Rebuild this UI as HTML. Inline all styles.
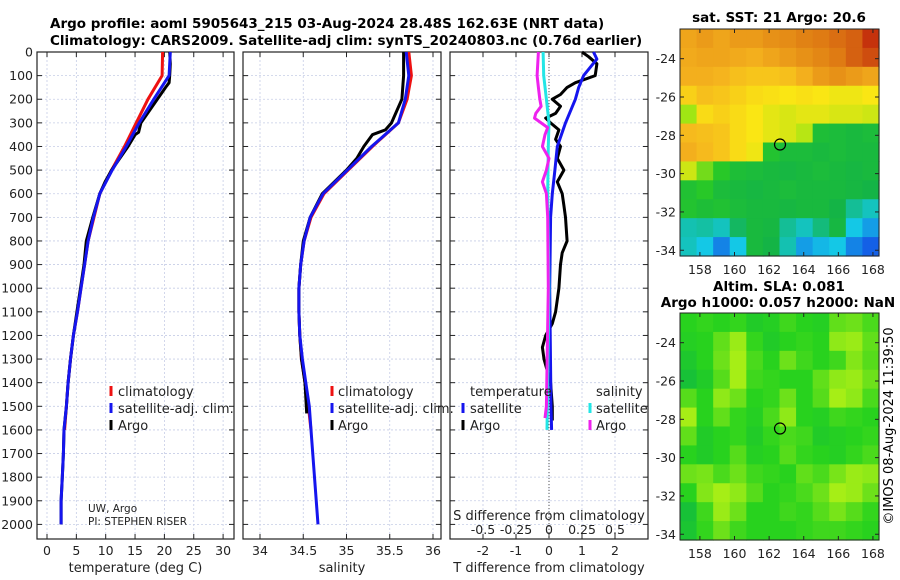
<!DOCTYPE html>
<html><head><meta charset="utf-8"><style>
body{margin:0;background:#fff;}
svg{display:block;font-family:"DejaVu Sans","Liberation Sans",sans-serif;}
</style></head><body>
<svg id="c" width="900" height="580" viewBox="0 0 900 580" xmlns="http://www.w3.org/2000/svg">
<text x="50" y="28" text-anchor="start" font-size="13.5" font-weight="bold">Argo profile: aoml 5905643_215 03-Aug-2024 28.48S 162.63E (NRT data)</text>
<text x="50" y="45" text-anchor="start" font-size="13.5" font-weight="bold">Climatology: CARS2009. Satellite-adj clim: synTS_20240803.nc (0.76d earlier)</text>
<text x="779" y="22" text-anchor="middle" font-size="13.5" font-weight="bold">sat. SST: 21 Argo: 20.6</text>
<text x="779" y="291" text-anchor="middle" font-size="13.5" font-weight="bold">Altim. SLA: 0.081</text>
<text x="778" y="307" text-anchor="middle" font-size="13.5" font-weight="bold">Argo h1000: 0.057 h2000: NaN</text>
<text transform="translate(893,426) rotate(-90)" text-anchor="middle" font-size="13">©IMOS 08-Aug-2024 11:39:50</text>
<g id="g"></g>
</svg>
<script>
// ---- data ----
const depthTicks=[0,100,200,300,400,500,600,700,800,900,1000,1100,1200,1300,1400,1500,1600,1700,1800,1900,2000];
const tTicks=[0,5,10,15,20,25,30];
const sTicks=[34,34.5,35,35.5,36];
const dtTicks=[-2,-1,0,1,2];
const dsTicks=[-0.5,-0.25,0,0.25,0.5];
const dsTickLabels=["-0.5","-0.25","0","0.25","0.5"];
const tempArgoDepth=[0,50,100,130,150,200,300,340,350,400,500,550,600,700,800,900,1000,1100,1200,1300,1400,1500,1600,1700,1800,1900,2000];
const tempArgo=[20.9,21.0,20.9,20.8,20.2,18.8,16.0,15.6,15.0,13.8,11.0,9.9,9.0,7.8,6.7,6.3,5.7,5.1,4.5,4.0,3.6,3.3,2.9,2.8,2.6,2.4,2.4];
const tempClimDepth=[0,100,200,300,400,500,600,700,800,900,1000,1100,1200,1300,1400,1500,1600];
const tempClim=[19.7,19.6,17.2,15.2,13.2,11.0,9.0,8.0,7.0,6.4,5.8,5.2,4.5,4.0,3.6,3.3,3.0];
const tempSatDepth=[0,100,200,300,400,500,600,700,800,900,1000,1100,1200,1300,1400,1500,1600,1700,1800,1900,2000];
const tempSat=[21.0,20.8,18.2,15.7,13.5,11.1,9.0,7.9,7.0,6.4,5.8,5.2,4.5,4.0,3.6,3.3,2.9,2.8,2.6,2.4,2.4];
const salArgoDepth=[0,100,200,250,300,330,350,400,450,500,600,700,800,900,1000,1100,1200,1300,1400,1530];
const salArgo=[35.66,35.66,35.64,35.58,35.52,35.45,35.30,35.20,35.12,35.00,34.72,34.58,34.50,34.47,34.45,34.45,34.46,34.48,34.52,34.54];
const salClimDepth=[0,100,200,300,400,500,600,700,800,900,1000,1100,1200,1300,1400,1500,1600];
const salClim=[35.72,35.75,35.70,35.60,35.30,35.02,34.74,34.59,34.51,34.47,34.45,34.45,34.46,34.48,34.52,34.56,34.59];
const salSatDepth=[0,100,200,300,400,500,600,700,800,900,1000,1100,1200,1300,1400,1500,1600,1800,2000];
const salSat=[35.69,35.72,35.68,35.60,35.29,35.01,34.73,34.58,34.51,34.47,34.45,34.45,34.46,34.49,34.53,34.57,34.59,34.63,34.67];
const dTArgoDepth=[0,20,50,100,130,150,180,200,230,260,280,300,330,370,400,450,500,550,600,650,700,800,850,900,1000,1100,1150,1200,1250,1300,1400,1500,1560];
const dTArgo=[1.0,1.2,1.45,1.4,0.8,0.55,0.35,0.1,0.35,0.2,-0.1,0.05,0.3,0.2,0.35,0.25,0.45,0.25,0.4,0.45,0.5,0.55,0.4,0.35,0.3,0.2,0.1,-0.1,-0.2,-0.15,0.05,0.1,0.1];
const dTSatDepth=[0,30,100,150,200,300,400,500,600,700,1000,1500,1600];
const dTSat=[1.35,1.45,1.05,0.9,0.8,0.5,0.25,0.18,0.1,0.05,0.02,0.06,0.08];
const dSSatDepth=[0,100,200,300,400,600,1000,1600];
const dSSat=[-0.045,-0.04,-0.02,0.0,-0.005,-0.01,0.0,-0.015];
const dSArgoDepth=[0,100,150,200,230,260,280,320,350,400,450,500,550,600,700,1000,1500,1550];
const dSArgo=[-0.08,-0.09,-0.08,-0.07,-0.06,-0.1,-0.11,-0.01,-0.03,-0.05,0.0,-0.02,-0.05,-0.02,-0.01,-0.005,-0.02,-0.03];
const lonTicks=[158,160,162,164,166,168];
const latTicks=[-24,-26,-28,-30,-32,-34];
const argoLon=162.63, argoLat=-28.48;
const sstRow0=[0.78,0.8,0.78,0.8,0.8,0.82,0.83,0.85,0.86,0.88,0.9,0.97];
const sstRow1=[0.77,0.78,0.78,0.77,0.76,0.78,0.8,0.82,0.84,0.86,0.9,0.93];
const sstRow2=[0.76,0.76,0.75,0.73,0.72,0.72,0.73,0.76,0.8,0.82,0.8,0.78];
const sstRow3=[0.7,0.73,0.72,0.7,0.68,0.67,0.66,0.67,0.66,0.65,0.65,0.66];
const sstRow4=[0.58,0.68,0.7,0.68,0.66,0.64,0.63,0.64,0.64,0.63,0.63,0.62];
const sstRow5=[0.74,0.73,0.72,0.68,0.66,0.64,0.63,0.6,0.46,0.45,0.44,0.45];
const sstRow6=[0.76,0.74,0.72,0.68,0.65,0.48,0.45,0.45,0.44,0.45,0.44,0.44];
const sstRow7=[0.62,0.55,0.5,0.46,0.45,0.44,0.43,0.44,0.45,0.44,0.43,0.44];
const sstRow8=[0.47,0.5,0.45,0.44,0.43,0.44,0.45,0.44,0.44,0.44,0.43,0.42];
const sstRow9=[0.48,0.46,0.47,0.45,0.44,0.44,0.43,0.44,0.44,0.42,0.36,0.33];
const sstRow10=[0.34,0.35,0.33,0.4,0.44,0.43,0.36,0.33,0.38,0.43,0.3,0.25];
const sstRow11=[0.33,0.3,0.22,0.3,0.44,0.42,0.34,0.25,0.28,0.3,0.22,0.18];
const slaRow0=[0.3,0.35,0.3,0.35,0.2,0.25,0.4,0.3,0.25,0.55,0.6,0.45];
const slaRow1=[0.25,0.3,0.55,0.8,0.35,0.2,0.3,0.35,0.3,0.75,0.8,0.55];
const slaRow2=[0.15,0.3,0.6,0.85,0.45,0.3,0.6,0.4,0.3,0.4,0.7,0.5];
const slaRow3=[0.05,0.2,0.5,0.85,0.4,0.35,0.3,0.3,0.55,0.75,0.8,0.6];
const slaRow4=[0.5,0.3,0.75,0.6,0.3,0.35,0.6,0.3,0.5,0.85,0.75,0.45];
const slaRow5=[0.85,0.3,0.55,0.35,0.25,0.45,0.75,0.3,0.25,0.4,0.35,0.3];
const slaRow6=[0.55,0.2,0.3,0.35,0.2,0.35,0.45,0.4,0.2,0.25,0.3,0.35];
const slaRow7=[0.3,0.2,0.3,0.5,0.25,0.3,0.5,0.35,0.3,0.25,0.35,0.45];
const slaRow8=[0.6,0.65,0.45,0.6,0.4,0.35,0.3,0.55,0.45,0.65,0.8,0.75];
const slaRow9=[0.3,0.7,0.85,0.75,0.5,0.3,0.35,0.45,0.6,0.85,0.8,0.6];
const slaRow10=[0.05,0.4,0.8,0.6,0.3,0.3,0.4,0.35,0.5,0.65,0.5,0.35];
const slaRow11=[0.1,0.35,0.6,0.4,0.3,0.3,0.3,0.35,0.4,0.4,0.35,0.3];
const sstRows=[sstRow0,sstRow1,sstRow2,sstRow3,sstRow4,sstRow5,sstRow6,sstRow7,sstRow8,sstRow9,sstRow10,sstRow11];
const slaRows=[slaRow0,slaRow1,slaRow2,slaRow3,slaRow4,slaRow5,slaRow6,slaRow7,slaRow8,slaRow9,slaRow10,slaRow11];

// ---- drawing ----
const NS="http://www.w3.org/2000/svg";
const G=document.getElementById('g');
function mk(tag,attrs,parent){const e=document.createElementNS(NS,tag);for(const k in attrs)e.setAttribute(k,attrs[k]);(parent||G).appendChild(e);return e;}
const TOP=52,BOT=539;
const yD=d=>TOP+d*0.2362;
const xT=t=>47+t*5.87;
const xS=s=>260+(s-34)*86.5;
const xDT=t=>549+t*33;
const xDS=s=>549+s*132;
const GRID="#c6cde6";

function panel(name,x0,x1,vticks,vx,labels,xlabel,showY){
  const grp=mk('g',{});
  
  
  depthTicks.forEach((d,i)=>{
    const gl=mk('line',{x1:x0,x2:x1,y1:yD(d),y2:yD(d),stroke:GRID,'stroke-width':0.8,'stroke-dasharray':'2,2'},grp);
    
    
    mk('line',{x1:x0,x2:x0+5,y1:yD(d),y2:yD(d),stroke:'#222'},grp);
    mk('line',{x1:x1,x2:x1-5,y1:yD(d),y2:yD(d),stroke:'#222'},grp);
    if(showY){const t=mk('text',{x:x0-4,y:yD(d)+4.5,'text-anchor':'end','font-size':12.5,fill:'#222'},grp);t.textContent=d;
      
      }
  });
  vticks.forEach((v,i)=>{
    const x=vx(v);
    const gl=mk('line',{x1:x,x2:x,y1:TOP,y2:BOT,stroke:GRID,'stroke-width':0.8,'stroke-dasharray':'2,2'},grp);
    
    
    mk('line',{x1:x,x2:x,y1:BOT,y2:BOT-5,stroke:'#222'},grp);
    mk('line',{x1:x,x2:x,y1:TOP,y2:TOP+5,stroke:'#222'},grp);
    const t=mk('text',{x:x,y:555,'text-anchor':'middle','font-size':12.5,fill:'#222'},grp);t.textContent=labels[i];
    
    
  });
  mk('rect',{x:x0,y:TOP,width:x1-x0,height:BOT-TOP,fill:'none',stroke:'#222','stroke-width':1.2},grp);
  const xl=mk('text',{x:(x0+x1)/2,y:572,'text-anchor':'middle','font-size':13,fill:'#222'},grp);xl.textContent=xlabel;
  
  
  return grp;
}
function line(name,depths,vals,xf,color,w){
  const p=depths.map((d,i)=>xf(vals[i]).toFixed(1)+','+yD(d).toFixed(1)).join(' ');
  const e=mk('polyline',{points:p,fill:'none',stroke:color,'stroke-width':w,'stroke-linejoin':'round'});
  
  
}
function txt(name,x,y,s,size,anchor){
  const t=mk('text',{x:x,y:y,'font-size':size||13,'text-anchor':anchor||'start',fill:'#222'});
  t.textContent=s;
  
  
}
function legMark(name,x,y,color){
  const r=mk('rect',{x:x-1.5,y:y-10,width:3,height:10,fill:color});
  
  
}

panel('temperature-panel',37,234,tTicks,xT,tTicks.map(String),'temperature (deg C)',true);
line('temp-climatology-line',tempClimDepth,tempClim,xT,'#ee1111',3);
line('temp-argo-line',tempArgoDepth,tempArgo,xT,'#000',3);
line('temp-satellite-line',tempSatDepth,tempSat,xT,'#1515ee',3);
legMark('legend-climatology-mark',111,396,'#ee1111');txt('legend-climatology',118,396,'climatology');
legMark('legend-satellite-mark',111,413,'#1515ee');txt('legend-satellite-adj',118,413,'satellite-adj. clim.');
legMark('legend-argo-mark',111,430,'#000');txt('legend-argo',118,430,'Argo');
txt('credit-uw-argo',88,512,'UW, Argo',10.5);
txt('credit-pi',88,525,'PI: STEPHEN RISER',10.5);

panel('salinity-panel',243,441,sTicks,xS,sTicks.map(String),'salinity',false);
line('sal-climatology-line',salClimDepth,salClim,xS,'#ee1111',3);
line('sal-argo-line',salArgoDepth,salArgo,xS,'#000',3);
line('sal-satellite-line',salSatDepth,salSat,xS,'#1515ee',3);
legMark('legend2-climatology-mark',332,396,'#ee1111');txt('legend2-climatology',338,396,'climatology');
legMark('legend2-satellite-mark',332,413,'#1515ee');txt('legend2-satellite-adj',338,413,'satellite-adj. clim.');
legMark('legend2-argo-mark',332,430,'#000');txt('legend2-argo',338,430,'Argo');

panel('difference-panel',450,648,dtTicks,xDT,dtTicks.map(String),'T difference from climatology',false);
const zl=mk('line',{x1:xDT(0),x2:xDT(0),y1:TOP,y2:BOT,stroke:'#555','stroke-width':1,'stroke-dasharray':'1,2'});


line('dT-argo-line',dTArgoDepth,dTArgo,xDT,'#000',3);
line('dT-satellite-line',dTSatDepth,dTSat,xDT,'#1515ee',3);
line('dS-satellite-line',dSSatDepth,dSSat,xDS,'#22e6e6',3);
line('dS-argo-line',dSArgoDepth,dSArgo,xDS,'#ee22ee',3);
txt('legend3-temperature-header',470,396,'temperature');
legMark('legend3-t-satellite-mark',463,413,'#1515ee');txt('legend3-t-satellite',470,413,'satellite');
legMark('legend3-t-argo-mark',463,430,'#000');txt('legend3-t-argo',470,430,'Argo');
txt('legend3-salinity-header',596,396,'salinity');
legMark('legend3-s-satellite-mark',590,413,'#22e6e6');txt('legend3-s-satellite',596,413,'satellite');
legMark('legend3-s-argo-mark',590,430,'#ee22ee');txt('legend3-s-argo',596,430,'Argo');
txt('s-axis-title',549,520,'S difference from climatology',13,'middle');
dsTicks.forEach((v,i)=>{txt('s-tick-label',xDS(v),534,dsTickLabels[i],12.5,'middle');});

function cmapJet(v){
  const stops=[[0.15,[20,70,230]],[0.3,[20,200,230]],[0.42,[20,180,70]],[0.5,[40,200,40]],[0.58,[160,230,20]],[0.66,[250,230,20]],[0.75,[245,180,30]],[0.85,[225,130,20]],[1,[190,30,10]]];
  if(v<=stops[0][0])return 'rgb('+stops[0][1]+')';
  for(let i=1;i<stops.length;i++){if(v<=stops[i][0]){const a=stops[i-1],b=stops[i];const f=(v-a[0])/(b[0]-a[0]);return 'rgb('+a[1].map((c,k)=>Math.round(c+(b[1][k]-c)*f)).join(',')+')';}}
  return 'rgb('+stops[stops.length-1][1]+')';
}
function cmapSla(v){
  const a=[20,190,60],b=[40,210,30],c=[200,245,20];
  let r;
  if(v<0.3){const f=v/0.3;r=a.map((x,k)=>x+(b[k]-x)*f);}else{const f=(v-0.3)/0.7;r=b.map((x,k)=>x+(c[k]-x)*f);}
  return 'rgb('+r.map(Math.round).join(',')+')';
}
function map(name,y0,y1,rows,cmap){
  const x0=680,x1=879,lonL=156.85,lonR=168.35,latT=-22.45,latB=-34.3;
  const xL=lo=>x0+(lo-lonL)/(lonR-lonL)*(x1-x0);
  const yL=la=>y0+(latT-la)/(latT-latB)*(y1-y0);
  const grp=mk('g',{});
  
  
  const nr=rows.length,nc=rows[0].length,cw=(x1-x0)/nc,ch=(y1-y0)/nr;
  rows.forEach((row,r)=>row.forEach((v,c)=>{
    const cell=mk('rect',{x:(x0+c*cw).toFixed(2),y:(y0+r*ch).toFixed(2),width:(cw+0.6).toFixed(2),height:(ch+0.6).toFixed(2),fill:cmap(v)},grp);
    
    
  }));
  mk('rect',{x:x0,y:y0,width:x1-x0,height:y1-y0,fill:'none',stroke:'#222','stroke-width':1},grp);
  lonTicks.forEach(lo=>{const x=xL(lo);mk('line',{x1:x,x2:x,y1:y1,y2:y1-4,stroke:'#222'},grp);mk('line',{x1:x,x2:x,y1:y0,y2:y0+4,stroke:'#222'},grp);
    const t=mk('text',{x:x,y:y1+18,'text-anchor':'middle','font-size':12.5,fill:'#222'},grp);t.textContent=lo;
    
    });
  latTicks.forEach(la=>{const y=yL(la);mk('line',{x1:x0,x2:x0+4,y1:y,y2:y,stroke:'#222'},grp);mk('line',{x1:x1,x2:x1-4,y1:y,y2:y,stroke:'#222'},grp);
    const t=mk('text',{x:x0-4,y:y+4.5,'text-anchor':'end','font-size':12.5,fill:'#222'},grp);t.textContent=la;
    
    });
  const m=mk('circle',{cx:xL(argoLon),cy:yL(argoLat),r:5.5,fill:'none',stroke:'#000','stroke-width':1.2},grp);
  
  
}
map('sst-map',29,256,sstRows,cmapJet);
map('sla-map',313,540,slaRows,cmapSla);
</script>
</body></html>
